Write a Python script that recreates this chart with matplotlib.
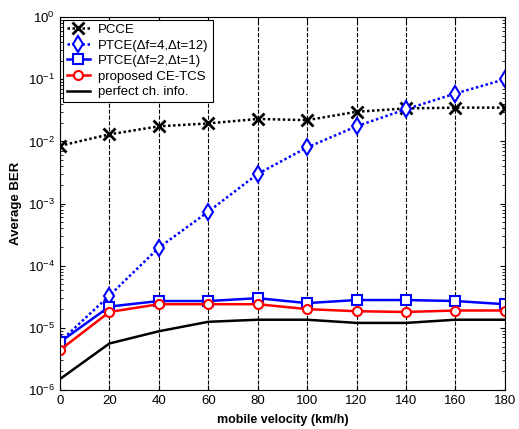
import matplotlib
matplotlib.use('Agg')
import matplotlib.pyplot as plt
from matplotlib.ticker import LogLocator, NullFormatter

plt.rcParams['font.family'] = ['Liberation Sans', 'DejaVu Sans']

velocity = [0, 20, 40, 60, 80, 100, 120, 140, 160, 180]
pcce = [8.5e-3, 1.3e-2, 1.75e-2, 1.95e-2, 2.3e-2, 2.2e-2, 3.0e-2, 3.4e-2, 3.5e-2, 3.5e-2]
ptce_4_12 = [6e-6, 3.3e-5, 1.95e-4, 7.4e-4, 3.0e-3, 8e-3, 1.75e-2, 3.3e-2, 5.9e-2, 1.0e-1]
ptce_2_1 = [5.9e-6, 2.2e-5, 2.7e-5, 2.7e-5, 3.0e-5, 2.5e-5, 2.8e-5, 2.8e-5, 2.7e-5, 2.4e-5]
ce_tcs = [4.4e-6, 1.8e-5, 2.4e-5, 2.4e-5, 2.4e-5, 2.0e-5, 1.85e-5, 1.8e-5, 1.9e-5, 1.9e-5]
perfect = [1.5e-6, 5.6e-6, 8.8e-6, 1.25e-5, 1.35e-5, 1.35e-5, 1.2e-5, 1.2e-5, 1.35e-5, 1.35e-5]

dots = (0, (1, 1))

fig = plt.figure(figsize=(5.19, 4.29), dpi=100)
ax = fig.add_axes([0.1156, 0.091, 0.857, 0.869])

ax.semilogy(velocity, pcce, color='black', ls=dots, lw=1.8, marker='x', ms=8, mew=2, label='PCCE')
ax.semilogy(velocity, ptce_4_12, color='blue', ls=dots, lw=1.8, marker='d', ms=8, mew=1.5,
            mfc='white', label='PTCE(Δf=4,Δt=12)')
ax.semilogy(velocity, ptce_2_1, color='blue', ls='-', lw=1.8, marker='s', ms=7, mew=1.5,
            mfc='white', label='PTCE(Δf=2,Δt=1)')
ax.semilogy(velocity, ce_tcs, color='red', ls='-', lw=1.8, marker='o', ms=6.5, mew=1.5,
            mfc='white', label='proposed CE-TCS')
ax.semilogy(velocity, perfect, color='black', ls='-', lw=1.8, label='perfect ch. info.')

ax.set_xlim(0, 180)
ax.set_ylim(1e-6, 1)
ax.set_xticks(velocity)
ax.yaxis.set_minor_locator(LogLocator(base=10, subs=range(2, 10)))
ax.yaxis.set_minor_formatter(NullFormatter())
ax.tick_params(direction='in', which='both', right=True, top=True, labelsize=9.5)
ax.xaxis.grid(True, ls='--', color='black', lw=0.8)
ax.xaxis.offsetText.set_visible(False)

ax.set_xlabel('mobile velocity (km/h)', fontweight='bold', fontsize=9, labelpad=5)
ax.set_ylabel('Average BER', fontweight='bold', fontsize=9.5)

leg = ax.legend(loc='upper left', fontsize=9.5, fancybox=False, framealpha=1,
                edgecolor='black', borderaxespad=0.2, handlelength=1.8,
                labelspacing=0.25, borderpad=0.3, handletextpad=0.6)
leg.get_frame().set_linewidth(0.8)

fig.savefig('out.png', dpi=100)
